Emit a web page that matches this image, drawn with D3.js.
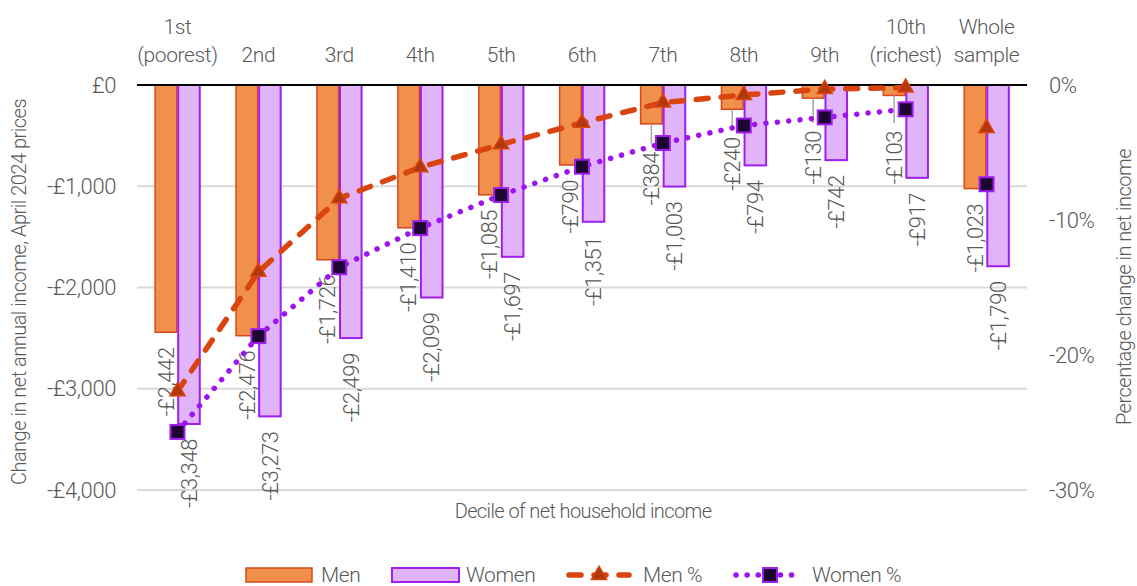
<!DOCTYPE html>
<html>
<head>
<meta charset="utf-8">
<script src="https://cdn.jsdelivr.net/npm/d3@7"></script>
<style>
  html, body { margin: 0; padding: 0; background: #fff; }
  svg text { font-family: Roboto, "Noto Sans", sans-serif; font-weight: 300; fill: #595959; }
</style>
</head>
<body>
<svg id="chart" width="1137" height="586"></svg>
<script>
// Income deciles plus the whole-sample column
const categories = ["1st\n(poorest)", "2nd", "3rd", "4th", "5th", "6th", "7th", "8th", "9th", "10th\n(richest)", "Whole\nsample"];

// Change in net annual income (£, April 2024 prices)
const menValues   = [-2442, -2476, -1726, -1410, -1085, -790, -384, -240, -130, -103, -1023];
const womenValues = [-3348, -3273, -2499, -2099, -1697, -1351, -1003, -794, -742, -917, -1790];

// Percentage change in net income
const menPct   = [-22.7, -13.85, -8.4, -6.1, -4.4, -2.8, -1.3, -0.74, -0.3, -0.2, -3.2];
const womenPct = [-25.7, -18.6, -13.5, -10.6, -8.15, -6.05, -4.3, -3.0, -2.4, -1.8, -7.35];

// Axis ticks
const leftTicks  = [0, -1000, -2000, -3000, -4000];
const rightTicks = [0, -10, -20, -30];

const seriesNames = ["Men", "Women"];

const C = {
  menFill: "#F0904B", menStroke: "#D9481A",
  womenFill: "#E1B3F8", womenStroke: "#A01EF0",
  menLine: "#D9440F", menMarker: "#B0380C",
  womenLine: "#9E14F0", womenMarker: "#1C0530",
  grid: "#D9D9D9", text: "#595959", leader: "#A6A6A6"
};

const svg = d3.select("#chart");
const plot = { left: 137, right: 1027, top: 85, bottom: 490 };

const x = d3.scaleBand().domain(d3.range(categories.length))
  .range([plot.left, plot.right]).paddingInner(0.43).paddingOuter(0.215);
const xs = d3.scaleBand().domain(seriesNames).range([0, x.bandwidth()]);
const y = d3.scaleLinear().domain([-4000, 0]).range([plot.bottom, plot.top]);
const y2 = d3.scaleLinear().domain([-30, 0]).range([plot.bottom, plot.top]);
const cx = i => x(i) + x.bandwidth() / 2;

const fmtMoney = v => (v < 0 ? "-" : "") + "£" + d3.format(",")(Math.abs(v));
const FS = 21;
const LS = "-0.4px";

// Gridlines
svg.append("g").selectAll("line").data(leftTicks.filter(t => t !== 0)).join("line")
  .attr("x1", plot.left).attr("x2", plot.right)
  .attr("y1", d => y(d)).attr("y2", d => y(d))
  .attr("stroke", C.grid).attr("stroke-width", 2);

// Left axis
const leftAxis = svg.append("g").attr("transform", `translate(${plot.left - 21},0)`)
  .call(d3.axisLeft(y).tickValues(leftTicks).tickSize(0).tickFormat(fmtMoney));
leftAxis.select(".domain").remove();
leftAxis.selectAll("text").attr("font-size", 22).attr("fill", C.text)
  .attr("font-family", null).attr("x", 0).style("letter-spacing", LS);

// Right axis
const rightAxis = svg.append("g").attr("transform", `translate(${plot.right + 22},0)`)
  .call(d3.axisRight(y2).tickValues(rightTicks).tickSize(0).tickFormat(d => d + "%"));
rightAxis.select(".domain").remove();
rightAxis.selectAll("text").attr("font-size", 22).attr("fill", C.text)
  .attr("font-family", null).attr("x", 0).style("letter-spacing", LS);

// Axis titles
svg.append("text").attr("transform", `translate(26,292) rotate(-90)`)
  .attr("text-anchor", "middle").attr("font-size", 20).style("letter-spacing", "-0.5px")
  .text("Change in net annual income, April 2024 prices");
svg.append("text").attr("transform", `translate(1131,287) rotate(-90)`)
  .attr("text-anchor", "middle").attr("font-size", 20).style("letter-spacing", "-0.5px")
  .text("Percentage change in net income");
svg.append("text").attr("x", 583).attr("y", 511).attr("dy", "0.35em")
  .attr("text-anchor", "middle").attr("font-size", 20).style("letter-spacing", "-0.6px")
  .text("Decile of net household income");

// Category labels above the zero line
const catG = svg.append("g");
categories.forEach((c, i) => {
  const lines = c.split("\n");
  lines.forEach((ln, j) => {
    catG.append("text").attr("x", cx(i)).attr("y", 55 - (lines.length - 1 - j) * 28)
      .attr("dy", "0.35em").attr("text-anchor", "middle").attr("font-size", FS)
      .style("letter-spacing", LS).text(ln);
  });
});

// Bars
const barData = [];
categories.forEach((c, i) => {
  barData.push({ i, s: "Men", v: menValues[i] });
  barData.push({ i, s: "Women", v: womenValues[i] });
});
svg.append("g").selectAll("rect").data(barData).join("rect")
  .attr("x", d => x(d.i) + xs(d.s) + 0.75)
  .attr("y", y(0))
  .attr("width", xs.bandwidth() - 1.5)
  .attr("height", d => y(d.v) - y(0))
  .attr("fill", d => d.s === "Men" ? C.menFill : C.womenFill)
  .attr("stroke", d => d.s === "Men" ? C.menStroke : C.womenStroke)
  .attr("stroke-width", d => d.s === "Men" ? 1.5 : 2);

// Zero line
svg.append("line").attr("x1", plot.left).attr("x2", plot.right)
  .attr("y1", y(0)).attr("y2", y(0)).attr("stroke", "#000").attr("stroke-width", 2);

// Value labels below each bar; short bars get a leader line
const labG = svg.append("g");
barData.forEach(d => {
  const bx = x(d.i) + xs(d.s) + xs.bandwidth() / 2;
  const end = y(d.v);
  let top = end + 15;
  if (d.s === "Men" && Math.abs(d.v) < 500) {
    top = Math.max(end + 28, 131);
    labG.append("line").attr("x1", bx).attr("x2", bx)
      .attr("y1", end).attr("y2", top - 8)
      .attr("stroke", C.leader).attr("stroke-width", 1.5);
  }
  labG.append("text").attr("transform", `translate(${bx},${top}) rotate(-90)`)
    .attr("text-anchor", "end").attr("dy", "0.35em").attr("font-size", 22)
    .style("letter-spacing", LS).text(fmtMoney(d.v));
});

// Percentage lines (deciles only)
const deciles = d3.range(10);
svg.append("path").datum(deciles)
  .attr("d", d3.line().x(i => cx(i)).y(i => y2(menPct[i])))
  .attr("fill", "none").attr("stroke", C.menLine).attr("stroke-width", 5.5)
  .attr("stroke-dasharray", "12,13").attr("stroke-linecap", "round");
svg.append("path").datum(deciles)
  .attr("d", d3.line().x(i => cx(i)).y(i => y2(womenPct[i])))
  .attr("fill", "none").attr("stroke", C.womenLine).attr("stroke-width", 5.5)
  .attr("stroke-dasharray", "0.1,11.3").attr("stroke-linecap", "round");

// Markers
const tri = d3.symbol().type(d3.symbolTriangle).size(100);
svg.append("g").selectAll("path").data(d3.range(categories.length)).join("path")
  .attr("d", tri).attr("transform", i => `translate(${cx(i)},${y2(menPct[i])})`)
  .attr("fill", C.menMarker).attr("stroke", C.menLine).attr("stroke-width", 1.5);
svg.append("g").selectAll("rect").data(d3.range(categories.length)).join("rect")
  .attr("x", i => cx(i) - 7).attr("y", i => y2(womenPct[i]) - 7)
  .attr("width", 14).attr("height", 14)
  .attr("fill", C.womenMarker).attr("stroke", C.womenStroke).attr("stroke-width", 2);

// Legend
const lg = svg.append("g");
const ly = 575;
lg.append("rect").attr("x", 246).attr("y", ly - 7).attr("width", 66).attr("height", 14)
  .attr("fill", C.menFill).attr("stroke", C.menStroke).attr("stroke-width", 1.5);
lg.append("text").attr("x", 321).attr("y", ly).attr("dy", "0.35em").attr("font-size", FS)
  .style("letter-spacing", LS).text("Men");
lg.append("rect").attr("x", 392).attr("y", ly - 7).attr("width", 67).attr("height", 14)
  .attr("fill", C.womenFill).attr("stroke", C.womenStroke).attr("stroke-width", 2);
lg.append("text").attr("x", 466).attr("y", ly).attr("dy", "0.35em").attr("font-size", FS)
  .style("letter-spacing", LS).text("Women");
lg.append("line").attr("x1", 569).attr("x2", 629).attr("y1", ly).attr("y2", ly)
  .attr("stroke", C.menLine).attr("stroke-width", 5.5)
  .attr("stroke-dasharray", "12,13").attr("stroke-linecap", "round");
lg.append("path").attr("d", tri).attr("transform", `translate(599,${ly})`)
  .attr("fill", C.menMarker).attr("stroke", C.menLine).attr("stroke-width", 1.5);
lg.append("text").attr("x", 643).attr("y", ly).attr("dy", "0.35em").attr("font-size", FS)
  .style("letter-spacing", LS).text("Men %");
lg.append("line").attr("x1", 736).attr("x2", 802).attr("y1", ly).attr("y2", ly)
  .attr("stroke", C.womenLine).attr("stroke-width", 5.5)
  .attr("stroke-dasharray", "0.1,11").attr("stroke-linecap", "round");
lg.append("rect").attr("x", 763).attr("y", ly - 7).attr("width", 14).attr("height", 14)
  .attr("fill", C.womenMarker).attr("stroke", C.womenStroke).attr("stroke-width", 2);
lg.append("text").attr("x", 812).attr("y", ly).attr("dy", "0.35em").attr("font-size", FS)
  .style("letter-spacing", LS).text("Women %");
</script>
</body>
</html>
